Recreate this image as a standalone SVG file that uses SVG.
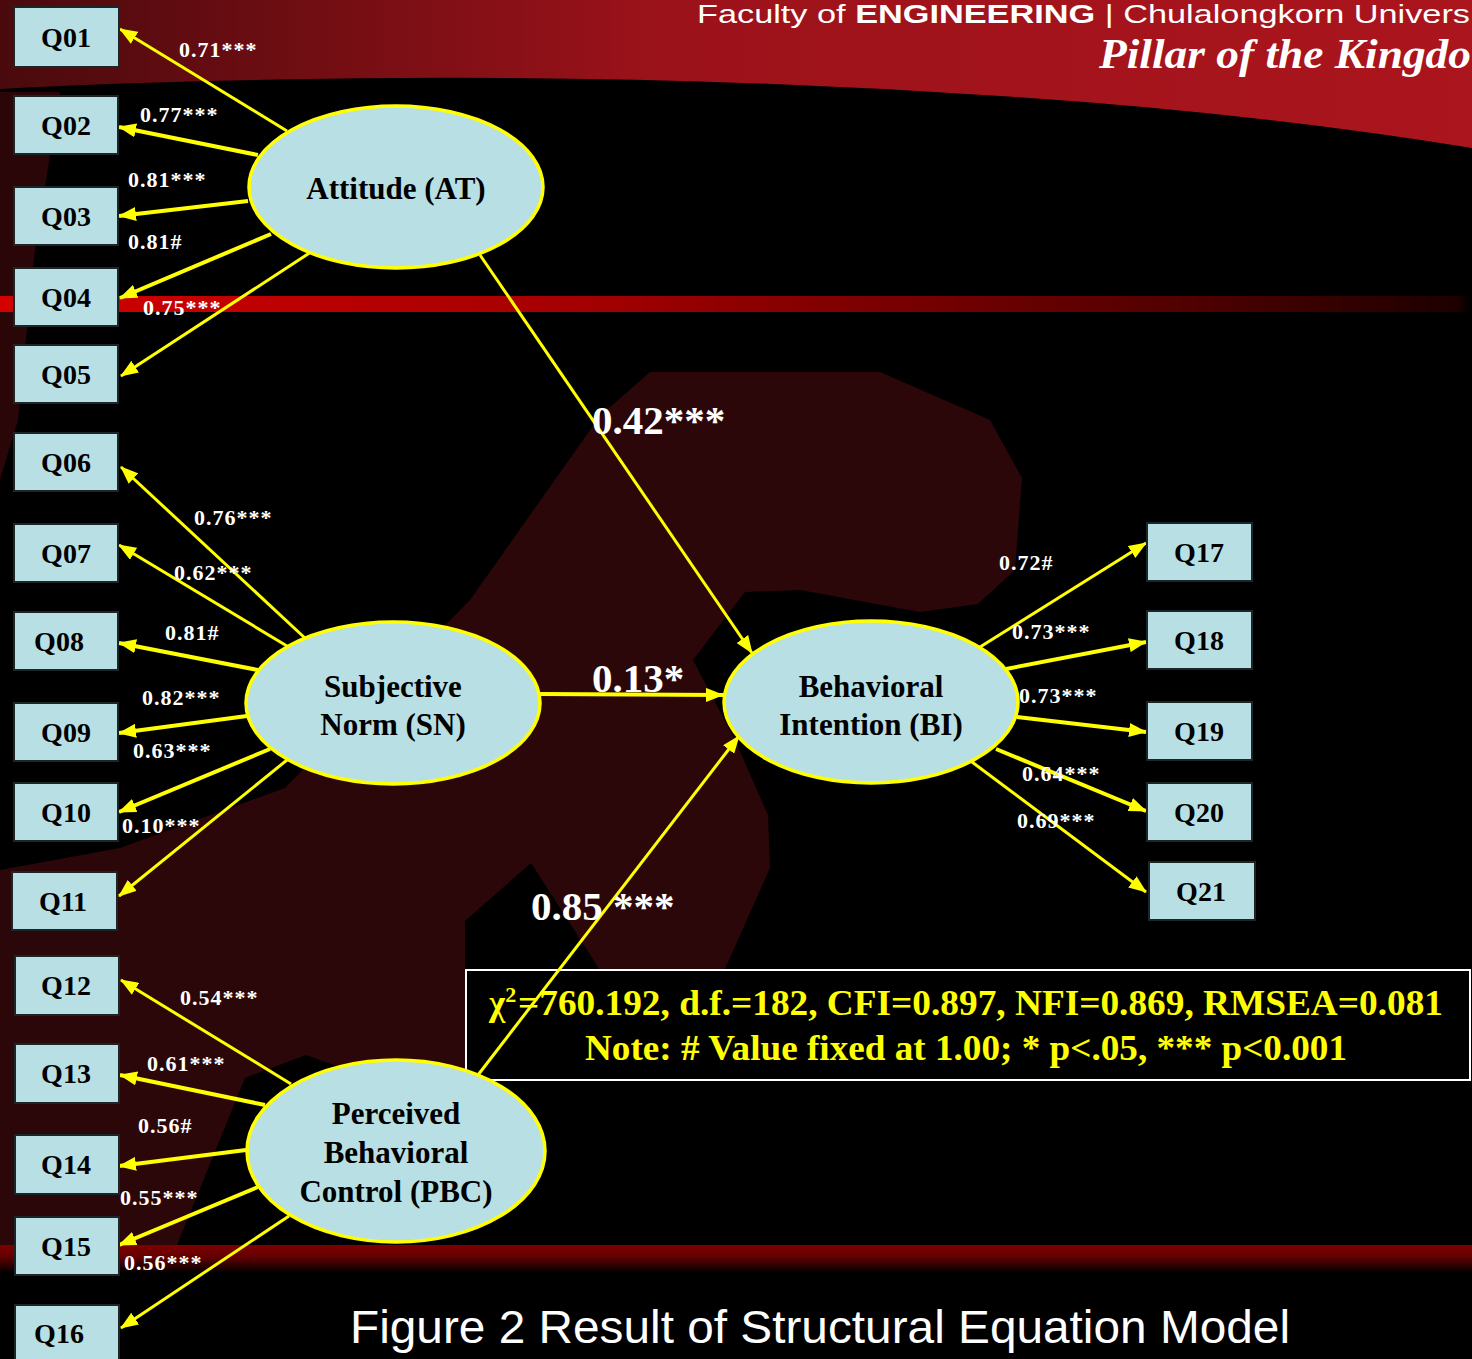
<svg xmlns="http://www.w3.org/2000/svg" width="1472" height="1359" viewBox="0 0 1472 1359">
<defs>
<linearGradient id="hdr" x1="0" y1="0" x2="1" y2="0">
<stop offset="0" stop-color="#4a0a0d"/><stop offset="0.45" stop-color="#9c121a"/><stop offset="1" stop-color="#ab151d"/>
</linearGradient>
<linearGradient id="stripe" x1="0" y1="0" x2="1" y2="0">
<stop offset="0" stop-color="#d40000"/><stop offset="0.4" stop-color="#a30000"/><stop offset="0.8" stop-color="#520000"/><stop offset="0.99" stop-color="#1e0000"/><stop offset="1" stop-color="#000000"/>
</linearGradient>
<linearGradient id="bstripe" x1="0" y1="0" x2="0" y2="1">
<stop offset="0" stop-color="#7e0000"/><stop offset="0.4" stop-color="#660000"/><stop offset="1" stop-color="#000000"/>
</linearGradient>
<marker id="ah" viewBox="0 0 18 14" markerWidth="18" markerHeight="14" refX="17" refY="7" orient="auto" markerUnits="userSpaceOnUse">
<path d="M0,0 L18,7 L0,14 Z" fill="#ffff00"/>
</marker>
<style>
.q rect{fill:#b8dfe3;stroke:#1c2628;stroke-width:2}
.q text{font-family:"Liberation Serif",serif;font-weight:bold;font-size:28px;fill:#000;text-anchor:middle}
.lv ellipse{fill:#b8dfe3;stroke:#ffff00;stroke-width:3.5}
.lv text{font-family:"Liberation Serif",serif;font-weight:bold;font-size:31px;fill:#000;text-anchor:middle}
.c line{stroke:#ffff00;stroke-width:3;marker-end:url(#ah)}
.c line.w{stroke-width:4}
.lb{font-family:"Liberation Serif",serif;font-weight:bold;font-size:22px;letter-spacing:1px;fill:#fff}
.big{font-family:"Liberation Serif",serif;font-weight:bold;font-size:41px;fill:#fff}
.fit{font-family:"Liberation Serif",serif;font-weight:bold;font-size:35px;fill:#ffff00}
</style>
</defs>
<rect width="1472" height="1359" fill="#000"/>
<g id="background">
<path d="M0,0 H1472 V148 Q1250,112 1000,96 Q700,76 400,78 Q150,80 0,89 Z" fill="url(#hdr)"/>
<path d="M0,92 L60,92 L35,250 L18,420 L0,480 Z" fill="#2a0608"/>
<path d="M0,870 L120,848 L285,788 L470,600 L600,416 L650,372 L880,372 L990,420 L1022,478 L1015,570 L978,604 L920,612 L800,590 L745,592 L693,660 L735,740 L768,815 L770,868 L720,980 L660,1000 L600,970 L531,863 L465,921 L465,1112 L306,1055 L245,1078 L175,1250 L0,1250 Z" fill="#2c0709"/>
<rect x="0" y="296" width="1472" height="16" fill="url(#stripe)"/>
<rect x="0" y="1245" width="1472" height="28" fill="url(#bstripe)"/>
<text x="697" y="23" font-family="Liberation Sans, Arial, sans-serif" font-size="26" fill="#fff" textLength="773" lengthAdjust="spacingAndGlyphs">Faculty of <tspan font-weight="bold">ENGINEERING</tspan> | Chulalongkorn Univers</text>
<text x="1099" y="68" font-family="Liberation Serif, serif" font-style="italic" font-weight="bold" font-size="42" fill="#fff" textLength="372" lengthAdjust="spacingAndGlyphs">Pillar of the Kingdo</text>
</g>
<g id="fitbox">
<rect x="466" y="970" width="1004" height="110" fill="#000" stroke="#ffffff" stroke-width="2"/>
<text class="fit" x="489" y="1015">χ<tspan dy="-13" font-size="22">2</tspan></text>
<text class="fit" x="518" y="1015" textLength="925" lengthAdjust="spacingAndGlyphs">=760.192, d.f.=182, CFI=0.897, NFI=0.869, RMSEA=0.081</text>
<text class="fit" x="585" y="1060" textLength="762" lengthAdjust="spacingAndGlyphs">Note: # Value fixed at 1.00; * p&lt;.05, *** p&lt;0.001</text>
</g>
<g id="connectors" class="c">
<line x1="287" y1="131" x2="120" y2="29"/>
<line class="w" x1="258" y1="155" x2="119" y2="127"/>
<line class="w" x1="248" y1="201" x2="119" y2="216"/>
<line class="w" x1="271" y1="234" x2="120" y2="298"/>
<line x1="311" y1="252" x2="121" y2="376"/>
<line x1="480" y1="255" x2="752" y2="653"/>
<line x1="306" y1="639" x2="121" y2="467"/>
<line x1="287" y1="646" x2="119" y2="545"/>
<line class="w" x1="258" y1="670" x2="119" y2="643"/>
<line class="w" x1="247" y1="716" x2="119" y2="733"/>
<line class="w" x1="270" y1="749" x2="119" y2="812"/>
<line x1="287" y1="760" x2="119" y2="896"/>
<line class="w" x1="540" y1="694" x2="723" y2="695"/>
<line x1="478" y1="1075" x2="739" y2="736"/>
<line x1="291" y1="1084" x2="121" y2="980"/>
<line class="w" x1="265" y1="1105" x2="120" y2="1075"/>
<line class="w" x1="246" y1="1150" x2="119" y2="1166"/>
<line class="w" x1="258" y1="1187" x2="119" y2="1245"/>
<line x1="289" y1="1216" x2="121" y2="1328"/>
<line x1="980" y1="647" x2="1146" y2="543"/>
<line class="w" x1="1006" y1="669" x2="1146" y2="642"/>
<line class="w" x1="1017" y1="717" x2="1146" y2="732"/>
<line class="w" x1="996" y1="749" x2="1146" y2="811"/>
<line x1="972" y1="762" x2="1146" y2="892"/>
</g>
<g id="loadings">
<text class="lb" x="179" y="57">0.71***</text>
<text class="lb" x="140" y="122">0.77***</text>
<text class="lb" x="128" y="187">0.81***</text>
<text class="lb" x="128" y="249">0.81#</text>
<text class="lb" x="143" y="315">0.75***</text>
<text class="lb" x="194" y="525">0.76***</text>
<text class="lb" x="174" y="580">0.62***</text>
<text class="lb" x="165" y="640">0.81#</text>
<text class="lb" x="142" y="705">0.82***</text>
<text class="lb" x="133" y="758">0.63***</text>
<text class="lb" x="122" y="833">0.10***</text>
<text class="lb" x="180" y="1005">0.54***</text>
<text class="lb" x="147" y="1071">0.61***</text>
<text class="lb" x="138" y="1133">0.56#</text>
<text class="lb" x="120" y="1205">0.55***</text>
<text class="lb" x="124" y="1270">0.56***</text>
<text class="lb" x="999" y="570">0.72#</text>
<text class="lb" x="1012" y="639">0.73***</text>
<text class="lb" x="1019" y="703">0.73***</text>
<text class="lb" x="1022" y="781">0.64***</text>
<text class="lb" x="1017" y="828">0.69***</text>
<text class="big" x="592" y="434">0.42***</text>
<text class="big" x="592" y="692">0.13*</text>
<text class="big" x="531" y="920">0.85 ***</text>
</g>
<g id="AT" class="lv"><ellipse cx="396" cy="187" rx="147" ry="81"/><text x="396" y="199">Attitude (AT)</text></g>
<g id="SN" class="lv"><ellipse cx="393" cy="703" rx="147" ry="81"/><text x="393" y="697">Subjective</text><text x="393" y="735">Norm (SN)</text></g>
<g id="BI" class="lv"><ellipse cx="871" cy="702" rx="147" ry="81"/><text x="871" y="697">Behavioral</text><text x="871" y="735">Intention (BI)</text></g>
<g id="PBC" class="lv"><ellipse cx="396" cy="1151" rx="149" ry="91"/><text x="396" y="1124">Perceived</text><text x="396" y="1163">Behavioral</text><text x="396" y="1202">Control (PBC)</text></g>
<g id="Q01" class="q"><rect x="14" y="7" width="105" height="60"/><text x="66" y="47">Q01</text></g>
<g id="Q02" class="q"><rect x="14" y="96" width="104" height="58"/><text x="66" y="135">Q02</text></g>
<g id="Q03" class="q"><rect x="14" y="187" width="104" height="58"/><text x="66" y="226">Q03</text></g>
<g id="Q04" class="q"><rect x="14" y="268" width="104" height="58"/><text x="66" y="307">Q04</text></g>
<g id="Q05" class="q"><rect x="14" y="345" width="104" height="58"/><text x="66" y="384">Q05</text></g>
<g id="Q06" class="q"><rect x="14" y="433" width="104" height="58"/><text x="66" y="472">Q06</text></g>
<g id="Q07" class="q"><rect x="14" y="524" width="104" height="58"/><text x="66" y="563">Q07</text></g>
<g id="Q08" class="q"><rect x="14" y="612" width="104" height="58"/><text x="59" y="651">Q08</text></g>
<g id="Q09" class="q"><rect x="14" y="703" width="104" height="58"/><text x="66" y="742">Q09</text></g>
<g id="Q10" class="q"><rect x="14" y="783" width="104" height="58"/><text x="66" y="822">Q10</text></g>
<g id="Q11" class="q"><rect x="12" y="872" width="105" height="58"/><text x="63" y="911">Q11</text></g>
<g id="Q12" class="q"><rect x="15" y="956" width="104" height="59"/><text x="66" y="995">Q12</text></g>
<g id="Q13" class="q"><rect x="15" y="1044" width="104" height="59"/><text x="66" y="1083">Q13</text></g>
<g id="Q14" class="q"><rect x="15" y="1135" width="104" height="59"/><text x="66" y="1174">Q14</text></g>
<g id="Q15" class="q"><rect x="15" y="1217" width="104" height="58"/><text x="66" y="1256">Q15</text></g>
<g id="Q16" class="q"><rect x="15" y="1305" width="104" height="60"/><text x="59" y="1343">Q16</text></g>
<g id="Q17" class="q"><rect x="1147" y="523" width="105" height="58"/><text x="1199" y="562">Q17</text></g>
<g id="Q18" class="q"><rect x="1147" y="611" width="105" height="58"/><text x="1199" y="650">Q18</text></g>
<g id="Q19" class="q"><rect x="1147" y="702" width="105" height="58"/><text x="1199" y="741">Q19</text></g>
<g id="Q20" class="q"><rect x="1147" y="783" width="105" height="58"/><text x="1199" y="822">Q20</text></g>
<g id="Q21" class="q"><rect x="1149" y="862" width="106" height="58"/><text x="1201" y="901">Q21</text></g>
<text x="350" y="1343" font-family="Liberation Sans, Arial, sans-serif" font-size="46" fill="#fff" textLength="940" lengthAdjust="spacingAndGlyphs">Figure 2 Result of Structural Equation Model</text>
</svg>
